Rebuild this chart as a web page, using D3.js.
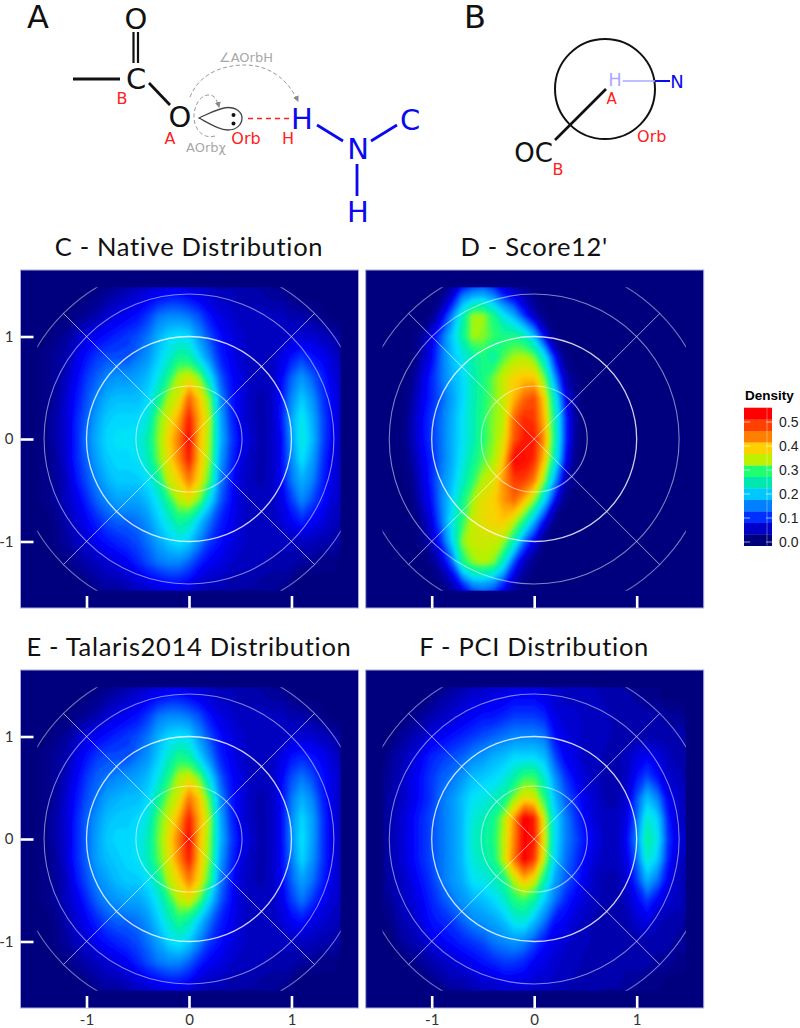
<!DOCTYPE html>
<html>
<head>
<meta charset="utf-8">
<style>
    html, body { margin: 0; padding: 0; background: #fff; }
    svg { display: block; }
    .mol { font-family: "DejaVu Sans"; }
    .title { font-family: Lato; font-size: 25.5px; letter-spacing: 0.7px; fill: #111; text-anchor: middle; }
    .axis text { font-family: Lato; font-size: 15px; fill: #333; }
    .legend text { font-family: "Liberation Sans"; }
</style>
<script src="https://cdn.jsdelivr.net/npm/d3@7"></script>
</head>
<body>
<div id="content"></div>
<script>

    // grid positions of the density values
    let gridX = d3.range(31).map(function (i) { return (i - 15) / 10; });
    let gridY = d3.range(17).map(function (i) { return (8 - i) / 5; });

    // density x 100, one row per gridY value, top row first
    let nativeRows = [
        [0,0,0,0,0, 0,0,0,0,1, 2,2,3,3,3, 3, 3,3,2,2,2, 2,1,1,0,0, 0,0,0,0,0],
        [0,0,0,0,0, 0,1,2,3,4, 5,6,7,8,8, 7, 6,5,4,4,3, 3,3,2,2,1, 0,0,0,0,0],
        [0,0,0,0,1, 2,3,5,6,7, 8,10,13,14,14, 13, 11,8,6,5,4, 4,4,4,4,3, 3,2,1,0,0],
        [0,0,1,2,4, 6,7,8,9,10, 11,13,17,20,21, 20, 15,11,8,6,5, 4,4,4,4,5, 5,5,4,3,2],
        [0,1,2,3,6, 8,10,11,11,11, 13,15,19,23,28, 27, 20,14,9,7,5, 4,4,4,6,8, 10,8,7,5,3],
        [0,1,2,4,7, 10,12,14,15,15, 16,18,22,29,36, 38, 34,22,12,8,6, 4,4,4,7,12, 15,12,9,6,4],
        [0,1,2,5,8, 11,14,17,18,18, 18,20,27,35,38, 47, 41,33,15,9,6, 4,3,4,8,14, 19,15,10,7,4],
        [0,1,3,5,9, 12,16,19,20,20, 20,23,33,38,43, 52, 43,36,17,10,6, 4,3,4,8,16, 22,17,11,7,4],
        [0,1,3,5,9, 13,17,20,21,21, 22,26,34,40,46, 54, 42,35,18,11,7, 5,3,4,7,15, 23,18,11,7,4],
        [0,1,2,5,9, 12,16,19,20,20, 21,25,33,39,45, 52, 42,34,16,10,6, 4,3,4,7,14, 21,16,10,6,4],
        [0,1,2,4,8, 11,14,17,19,19, 19,21,27,37,40, 46, 40,31,14,9,5, 4,3,4,7,13, 17,14,9,6,4],
        [0,1,2,4,6, 9,12,14,16,16, 16,18,22,29,36, 38, 33,21,12,8,5, 4,4,4,6,10, 14,11,8,5,4],
        [0,0,1,3,5, 7,9,11,12,12, 13,15,19,23,28, 26, 19,13,9,7,5, 4,4,4,5,7, 9,7,6,4,3],
        [0,0,1,2,4, 5,7,8,9,10, 11,13,16,19,21, 19, 14,10,8,6,5, 4,4,4,4,4, 4,4,3,3,2],
        [0,0,0,1,2, 3,4,5,6,7, 9,11,13,14,14, 12, 9,7,6,5,4, 4,4,3,3,3, 2,2,1,1,0],
        [0,0,0,0,0, 1,2,3,3,4, 5,6,7,8,8, 7, 5,4,4,3,3, 3,2,2,2,1, 0,0,0,0,0],
        [0,0,0,0,0, 0,0,0,0,1, 2,2,3,3,3, 3, 3,2,2,2,1, 1,1,1,0,0, 0,0,0,0,0]
    ];

    let score12Rows = [
        [0,0,0,0,0, 0,0,0,1,3, 4,3,1,0,0, 0, 0,0,0,0,0, 0,0,0,0,0, 0,0,0,0,0],
        [0,0,0,0,0, 0,1,5,13,16, 17,14,9,6,3, 1, 0,0,0,0,0, 0,0,0,0,0, 0,0,0,0,0],
        [0,0,0,0,0, 1,6,14,25,35, 35,29,22,17,10, 4, 1,0,0,0,0, 0,0,0,0,0, 0,0,0,0,0],
        [0,0,0,0,2, 6,12,19,27,35, 34,31,29,29,26, 18, 7,1,0,0,0, 0,0,0,0,0, 0,0,0,0,0],
        [0,0,0,0,3, 7,13,18,22,26, 29,26,32,35,36, 33, 22,8,1,0,0, 0,0,0,0,0, 0,0,0,0,0],
        [0,0,0,1,5, 9,13,17,20,25, 29,33,37,40,41, 41, 33,15,4,1,0, 0,0,0,0,0, 0,0,0,0,0],
        [0,0,0,2,6, 9,12,16,20,25, 29,33,37,42,47, 49, 40,24,7,2,0, 0,0,0,0,0, 0,0,0,0,0],
        [0,0,0,3,7, 10,13,17,21,25, 30,34,36,47,51, 50, 42,27,10,2,0, 0,0,0,0,0, 0,0,0,0,0],
        [0,0,0,3,7, 10,13,17,21,25, 30,34,38,48,52, 52, 44,28,10,2,0, 0,0,0,0,0, 0,0,0,0,0],
        [0,0,0,2,6, 9,13,17,22,27, 32,35,41,54,53, 51, 41,25,8,1,0, 0,0,0,0,0, 0,0,0,0,0],
        [0,0,0,1,5, 9,14,18,24,30, 36,38,44,50,50, 46, 34,16,4,1,0, 0,0,0,0,0, 0,0,0,0,0],
        [0,0,0,0,4, 8,14,20,28,35, 39,40,44,47,42, 34, 20,7,1,0,0, 0,0,0,0,0, 0,0,0,0,0],
        [0,0,0,0,2, 6,13,22,30,37, 39,40,41,37,29, 17, 7,1,0,0,0, 0,0,0,0,0, 0,0,0,0,0],
        [0,0,0,0,1, 4,10,20,34,37, 37,37,35,26,13, 6, 1,0,0,0,0, 0,0,0,0,0, 0,0,0,0,0],
        [0,0,0,0,0, 1,5,12,28,34, 36,34,24,11,4, 1, 0,0,0,0,0, 0,0,0,0,0, 0,0,0,0,0],
        [0,0,0,0,0, 0,1,4,10,16, 17,15,10,4,1, 0, 0,0,0,0,0, 0,0,0,0,0, 0,0,0,0,0],
        [0,0,0,0,0, 0,0,0,1,3, 5,4,2,0,0, 0, 0,0,0,0,0, 0,0,0,0,0, 0,0,0,0,0]
    ];

    let talarisRows = [
        [0,0,0,0,0, 0,0,0,0,1, 2,2,3,3,3, 3, 3,3,2,2,2, 2,1,1,0,0, 0,0,0,0,0],
        [0,0,0,0,0, 0,1,2,3,4, 5,6,7,8,8, 7, 6,5,4,4,3, 3,3,2,2,1, 0,0,0,0,0],
        [0,0,0,0,1, 2,3,5,6,7, 8,10,13,14,14, 13, 11,8,6,5,4, 4,4,4,4,3, 3,2,1,0,0],
        [0,0,1,2,4, 6,7,8,9,10, 11,13,17,20,21, 20, 15,11,8,6,5, 4,4,4,4,5, 5,5,4,3,2],
        [0,1,2,3,6, 8,10,11,11,11, 13,15,19,24,29, 27, 20,14,9,7,5, 4,4,4,6,8, 9,8,7,5,3],
        [0,1,2,4,7, 10,12,13,14,15, 16,18,22,29,36, 38, 33,21,12,8,6, 4,4,4,7,11, 13,11,8,6,4],
        [0,1,2,5,8, 11,13,16,17,18, 18,20,27,34,38, 46, 41,31,15,9,6, 4,3,4,7,13, 17,14,9,6,4],
        [0,1,3,5,9, 12,15,18,19,19, 20,23,32,37,43, 52, 43,35,17,10,6, 4,3,4,7,14, 20,16,10,6,4],
        [0,1,3,5,9, 12,16,19,20,20, 21,25,33,39,46, 54, 42,34,18,11,7, 5,3,4,7,14, 21,16,10,6,4],
        [0,1,2,5,9, 12,16,18,19,20, 21,25,32,38,45, 52, 42,33,16,10,6, 4,3,4,7,13, 20,15,10,6,4],
        [0,1,2,4,8, 11,14,16,18,19, 19,21,27,36,40, 46, 40,30,14,9,5, 4,3,4,7,12, 16,13,9,6,4],
        [0,1,2,4,6, 9,12,14,15,16, 16,18,22,29,36, 38, 32,20,12,8,5, 4,4,4,6,10, 13,10,7,5,4],
        [0,0,1,3,5, 7,9,11,12,12, 13,15,19,24,29, 26, 19,13,9,7,5, 4,4,4,5,7, 8,6,5,4,3],
        [0,0,1,2,4, 5,7,8,9,10, 11,13,16,20,22, 19, 14,10,8,6,5, 4,4,4,4,4, 4,4,3,3,2],
        [0,0,0,1,2, 3,4,5,6,7, 9,11,13,14,14, 12, 9,7,6,5,4, 4,4,3,3,3, 2,2,1,1,0],
        [0,0,0,0,0, 1,2,3,3,4, 5,6,7,8,8, 7, 5,4,4,3,3, 3,2,2,2,1, 0,0,0,0,0],
        [0,0,0,0,0, 0,0,0,0,1, 2,2,3,3,3, 3, 3,2,2,2,1, 1,1,1,0,0, 0,0,0,0,0]
    ];

    let pciRows = [
        [0,0,0,0,0, 0,0,0,1,2, 3,4,4,4,4, 4, 4,3,3,3,3, 3,2,2,1,0, 0,0,0,0,0],
        [0,0,0,0,0, 1,2,3,4,5, 5,6,6,7,7, 7, 6,5,4,4,4, 4,3,3,3,2, 1,1,0,0,0],
        [0,0,0,1,2, 3,4,5,6,7, 8,8,9,10,10, 10, 9,6,5,5,4, 4,4,3,3,3, 3,3,2,2,1],
        [0,0,2,3,4, 6,7,8,9,10, 11,12,13,14,14, 14, 13,8,6,5,4, 4,4,3,3,3, 3,3,3,3,3],
        [0,2,3,5,7, 9,10,11,12,14, 15,17,18,20,20, 20, 18,11,7,6,4, 4,3,3,4,6, 7,6,4,3,3],
        [1,2,4,6,8, 10,12,13,15,18, 19,20,22,26,31, 31, 24,15,10,7,5, 4,3,3,4,8, 11,8,5,4,3],
        [1,3,4,6,8, 10,13,15,18,21, 22,24,27,34,39, 38, 30,18,12,9,6, 5,3,3,5,11, 18,14,7,5,3],
        [1,3,5,7,9, 11,13,15,18,23, 25,28,35,44,55, 52, 37,21,14,10,7, 5,4,4,6,12, 24,20,9,5,3],
        [1,3,5,7,9, 11,13,15,18,24, 26,29,36,45,54, 52, 38,21,14,11,8, 6,4,4,7,14, 27,22,10,6,4],
        [1,3,5,7,9, 11,13,15,18,23, 25,28,36,46,54, 50, 36,20,13,10,7, 5,4,4,6,12, 24,19,9,5,3],
        [1,3,4,6,8, 10,13,15,17,21, 22,24,28,36,42, 38, 27,16,12,9,6, 4,3,3,5,10, 17,13,7,4,3],
        [1,2,4,5,7, 9,11,13,15,17, 18,20,23,29,31, 27, 19,13,9,7,5, 4,3,3,4,7, 10,7,5,4,3],
        [0,1,3,4,6, 8,9,10,12,14, 15,16,18,22,23, 18, 13,8,7,5,4, 3,3,3,3,5, 6,4,3,3,2],
        [0,0,2,3,4, 6,7,8,9,10, 11,13,14,15,14, 11, 8,6,5,4,4, 3,3,3,3,3, 3,3,3,2,2],
        [0,0,0,1,2, 3,4,5,6,7, 8,9,10,10,9, 7, 6,5,4,4,3, 3,3,3,3,3, 3,2,2,1,1],
        [0,0,0,0,0, 1,2,3,3,4, 5,5,6,6,6, 5, 5,4,4,3,3, 3,3,3,2,2, 1,1,0,0,0],
        [0,0,0,0,0, 0,0,0,1,2, 2,3,3,3,3, 3, 3,2,2,2,2, 2,1,1,1,0, 0,0,0,0,0]
    ];

    // guide rings and rays of the projection
    let ringRadii = [0.5176, 1, 1.4142, 1.7321];
    let ringOpacity = [0.55, 0.8, 0.5, 0.45];
    let rayAngles = [45, 135, 225, 315];

    let axisTicks = [-1, 0, 1];
    let legendTicks = [0, 0.1, 0.2, 0.3, 0.4, 0.5];
    let legendBins = ["#00007a", "#0000c8", "#0030ff", "#0080ff", "#00c8ff", "#00e8b0",
                      "#20ff70", "#bff000", "#ffd000", "#ff8000", "#ff4000", "#ff0000"];

    let colorStops = [0, 7, 13, 20, 25, 30, 35, 40, 45, 53];
    let colorValues = ["#00007f", "#0000ff", "#0080ff", "#00e0ff", "#00f0b0",
                       "#20ff70", "#b0f500", "#ffd000", "#ff8000", "#ff0000"];

    let density = d3.scaleLinear().domain(colorStops).range(colorValues).clamp(true);

    let panelW = 338, panelH = 338;
    let clipLimit = 1.48;

    let svg = d3.select("#content").append("svg")
        .attr("width", 800)
        .attr("height", 1028);

    let defs = svg.append("defs");

    defs.append("filter")
        .attr("id", "soften")
        .attr("filterUnits", "userSpaceOnUse")
        .attr("x", -20).attr("y", -20).attr("width", 400).attr("height", 400)
        .append("feGaussianBlur")
        .attr("stdDeviation", 1.6);

    defs.append("marker")
        .attr("id", "grayhead")
        .attr("viewBox", "0 0 6 6")
        .attr("refX", 5).attr("refY", 3)
        .attr("markerWidth", 6).attr("markerHeight", 6)
        .attr("markerUnits", "userSpaceOnUse")
        .attr("orient", "auto")
        .append("path")
        .attr("d", "M0,0L6,3L0,6Z")
        .attr("fill", "#888");

    function drawPanel(opts) {
        let x = d3.scaleLinear().domain([-1.644, 1.654]).range([0, panelW]);
        let y = d3.scaleLinear().domain([1.649, -1.649]).range([0, panelH]);

        let g = svg.append("g")
            .attr("transform", `translate(${opts.left},${opts.top})`);

        svg.append("text").classed("title", true)
            .attr("x", opts.left + x(0))
            .attr("y", opts.top - 14)
            .text(opts.title);

        g.append("rect")
            .attr("width", panelW)
            .attr("height", panelH)
            .attr("fill", "#00007f")
            .attr("stroke", "#a9a9d8")
            .attr("stroke-width", 1);

        let clipId = "clip-" + opts.key;
        defs.append("clipPath").attr("id", clipId)
            .append("rect")
            .attr("x", x(-clipLimit))
            .attr("y", y(clipLimit))
            .attr("width", x(clipLimit) - x(-clipLimit))
            .attr("height", y(-clipLimit) - y(clipLimit));

        // filled density bands, lowest first so the higher ones sit on top
        let contours = d3.contours()
            .size([gridX.length, gridY.length])
            .smooth(true)
            .thresholds(d3.range(0.5, 56, 1))(opts.rows.flat());

        let gridToPixel = d3.geoTransform({
            point: function (gx, gy) {
                this.stream.point(
                    x(gridX[0] + (gx - 0.5) * 0.1),
                    y(gridY[0] - (gy - 0.5) * 0.2));
            }
        });
        let contourPath = d3.geoPath(gridToPixel);

        g.append("g")
            .attr("clip-path", `url(#${clipId})`)
            .append("g")
            .attr("filter", "url(#soften)")
            .selectAll("path")
            .data(contours)
            .enter().append("path")
            .attr("d", contourPath)
            .attr("fill", function (d) { return density(d.value); });

        let guides = g.append("g")
            .attr("clip-path", `url(#${clipId})`)
            .attr("fill", "none")
            .attr("stroke", "#fff");

        guides.selectAll("circle")
            .data(ringRadii)
            .enter().append("circle")
            .attr("cx", x(0))
            .attr("cy", y(0))
            .attr("r", function (d) { return x(d) - x(0); })
            .attr("stroke-opacity", function (d, i) { return ringOpacity[i]; })
            .attr("stroke-width", function (d, i) { return i == 1 ? 1.3 : 1.1; });

        guides.selectAll("line")
            .data(rayAngles)
            .enter().append("line")
            .attr("x1", x(0))
            .attr("y1", y(0))
            .attr("x2", function (d) { return x(ringRadii[3] * Math.cos(d * Math.PI / 180)); })
            .attr("y2", function (d) { return y(ringRadii[3] * Math.sin(d * Math.PI / 180)); })
            .attr("stroke-opacity", 0.6);

        if (opts.leftAxis) {
            g.append("g").classed("axis", true)
                .call(d3.axisLeft(y).tickValues(axisTicks).tickFormat(String)
                      .tickSizeInner(-13).tickSizeOuter(0).tickPadding(7))
                .call(styleAxis);
        }

        let bottom = g.append("g").classed("axis", true)
            .attr("transform", `translate(0,${panelH})`)
            .call(d3.axisBottom(x).tickValues(axisTicks).tickFormat(String)
                  .tickSizeInner(-12).tickSizeOuter(0).tickPadding(6))
            .call(styleAxis);

        if (!opts.bottomLabels) {
            bottom.selectAll("text").remove();
        }
    }

    function styleAxis(sel) {
        sel.select(".domain").remove();
        sel.selectAll(".tick line")
            .attr("stroke", "#fff")
            .attr("stroke-width", 2.6);
    }

    drawPanel({key: "c", rows: nativeRows, title: "C - Native Distribution",
               left: 20.5, top: 270, leftAxis: true, bottomLabels: false});
    drawPanel({key: "d", rows: score12Rows, title: "D - Score12'",
               left: 365.7, top: 270, leftAxis: false, bottomLabels: false});
    drawPanel({key: "e", rows: talarisRows, title: "E - Talaris2014 Distribution",
               left: 20.5, top: 670, leftAxis: true, bottomLabels: true});
    drawPanel({key: "f", rows: pciRows, title: "F - PCI Distribution",
               left: 365.7, top: 670, leftAxis: false, bottomLabels: true});

    function drawLegend() {
        let y = d3.scaleLinear().domain([0, 0.5]).range([542, 422]);
        let binH = (545.7 - 407.7) / legendBins.length;

        let g = svg.append("g").classed("legend", true);

        g.append("text")
            .attr("x", 745)
            .attr("y", 400)
            .attr("font-size", 13.5)
            .attr("font-weight", "bold")
            .attr("fill", "#000")
            .text("Density");

        g.selectAll("rect")
            .data(legendBins)
            .enter().append("rect")
            .attr("x", 744)
            .attr("y", function (d, i) { return 545.7 - (i + 1) * binH; })
            .attr("width", 28)
            .attr("height", binH + 0.3)
            .attr("fill", function (d) { return d; });

        g.append("line")
            .attr("x1", 767).attr("x2", 767)
            .attr("y1", 407.7).attr("y2", 545.7)
            .attr("stroke", "#fff")
            .attr("stroke-opacity", 0.35);

        let ticks = g.selectAll("g.tick")
            .data(legendTicks)
            .enter().append("g").classed("tick", true)
            .attr("transform", function (d) { return `translate(0,${y(d)})`; });

        ticks.append("line")
            .attr("x1", 744).attr("x2", 750)
            .attr("stroke", "#fff").attr("stroke-opacity", 0.6);
        ticks.append("line")
            .attr("x1", 766).attr("x2", 772)
            .attr("stroke", "#fff").attr("stroke-opacity", 0.6);
        ticks.append("text")
            .attr("x", 779)
            .attr("dy", "0.36em")
            .attr("font-size", 14)
            .attr("fill", "#222")
            .text(function (d) { return d.toFixed(1); });
    }

    drawLegend();

    // --- schematics A and B ---

    let schem = svg.append("g").classed("mol", true);

    function label(txt, cx, cy, size, color) {
        schem.append("text")
            .attr("x", cx)
            .attr("y", cy)
            .attr("dy", "0.36em")
            .attr("text-anchor", "middle")
            .attr("font-size", size)
            .attr("fill", color)
            .text(txt);
    }

    function bond(x1, y1, x2, y2, color, width) {
        schem.append("line")
            .attr("x1", x1).attr("y1", y1)
            .attr("x2", x2).attr("y2", y2)
            .attr("stroke", color)
            .attr("stroke-width", width);
    }

    function dashedPath(d, withHead) {
        let p = schem.append("path")
            .attr("d", d)
            .attr("fill", "none")
            .attr("stroke", "#999")
            .attr("stroke-width", 1)
            .attr("stroke-dasharray", "4,2.5");
        if (withHead) {
            p.attr("marker-end", "url(#grayhead)");
        }
    }

    let red = "#ff2020", blue = "#0a0af0";

    label("A", 38, 16, 32, "#111");
    label("B", 475, 16, 32, "#111");

    // A: acetate oxygen and donor
    label("O", 136, 19, 29, "#111");
    label("C", 136, 79, 29, "#111");
    label("O", 180, 117, 29, "#111");
    bond(133.5, 32, 133.5, 63, "#111", 2.2);
    bond(138, 32, 138, 63, "#111", 2.2);
    bond(73, 79, 120, 79, "#111", 2.8);
    bond(149, 83, 170, 105, "#111", 2.8);

    label("B", 122, 98, 16, red);
    label("A", 170, 138, 16, red);
    label("Orb", 246, 138, 16, red);
    label("H", 288, 138, 16, red);
    label("AOrbχ", 206, 147, 13, "#a8a8a8");
    label("∠AOrbH", 246, 57, 13, "#a8a8a8");

    schem.append("path")
        .attr("d", "M199,118C212,112 220,107.5 228,107.5C236,107.5 242,112 242,118C242,125 236,130 228,130C220,130 212,125 199,118Z")
        .attr("fill", "none")
        .attr("stroke", "#444")
        .attr("stroke-width", 1.3);
    schem.append("circle").attr("cx", 233.5).attr("cy", 115).attr("r", 2).attr("fill", "#111");
    schem.append("circle").attr("cx", 233.5).attr("cy", 123.5).attr("r", 2).attr("fill", "#111");

    schem.append("line")
        .attr("x1", 248).attr("y1", 118.5)
        .attr("x2", 289).attr("y2", 118.5)
        .attr("stroke", red)
        .attr("stroke-width", 1.5)
        .attr("stroke-dasharray", "5,4");

    dashedPath("M190,97C200,72 225,65 245,65C268,65 287,78 298,101", true);
    dashedPath("M215,136C200,140 193,125 194,115C195,100 205,92 213,96C216,98 218,103 219,107", true);

    label("H", 302, 119, 29, blue);
    label("C", 410, 120, 29, blue);
    label("N", 358, 149, 29, blue);
    label("H", 358, 212, 29, blue);
    bond(317, 125, 343, 141, blue, 2.8);
    bond(371, 141, 397, 125, blue, 2.8);
    bond(357, 164, 357, 196, blue, 2.8);

    // B: view down the A-Orb axis
    schem.append("circle")
        .attr("cx", 605).attr("cy", 89).attr("r", 50)
        .attr("fill", "none")
        .attr("stroke", "#111")
        .attr("stroke-width", 2);
    bond(606, 89, 555, 140, "#111", 2.6);
    bond(622.7, 81, 655, 81, "#aaaaff", 1.6);
    bond(655, 81, 670, 81, blue, 2);
    label("H", 615, 80, 18, "#aaaaff");
    label("N", 677, 82, 18, blue);
    label("A", 611.7, 99, 15, red);
    label("Orb", 651.7, 136, 16, red);
    label("OC", 533.5, 153, 26, "#111");
    label("B", 558, 169, 16, red);

</script>
</body>
</html>
